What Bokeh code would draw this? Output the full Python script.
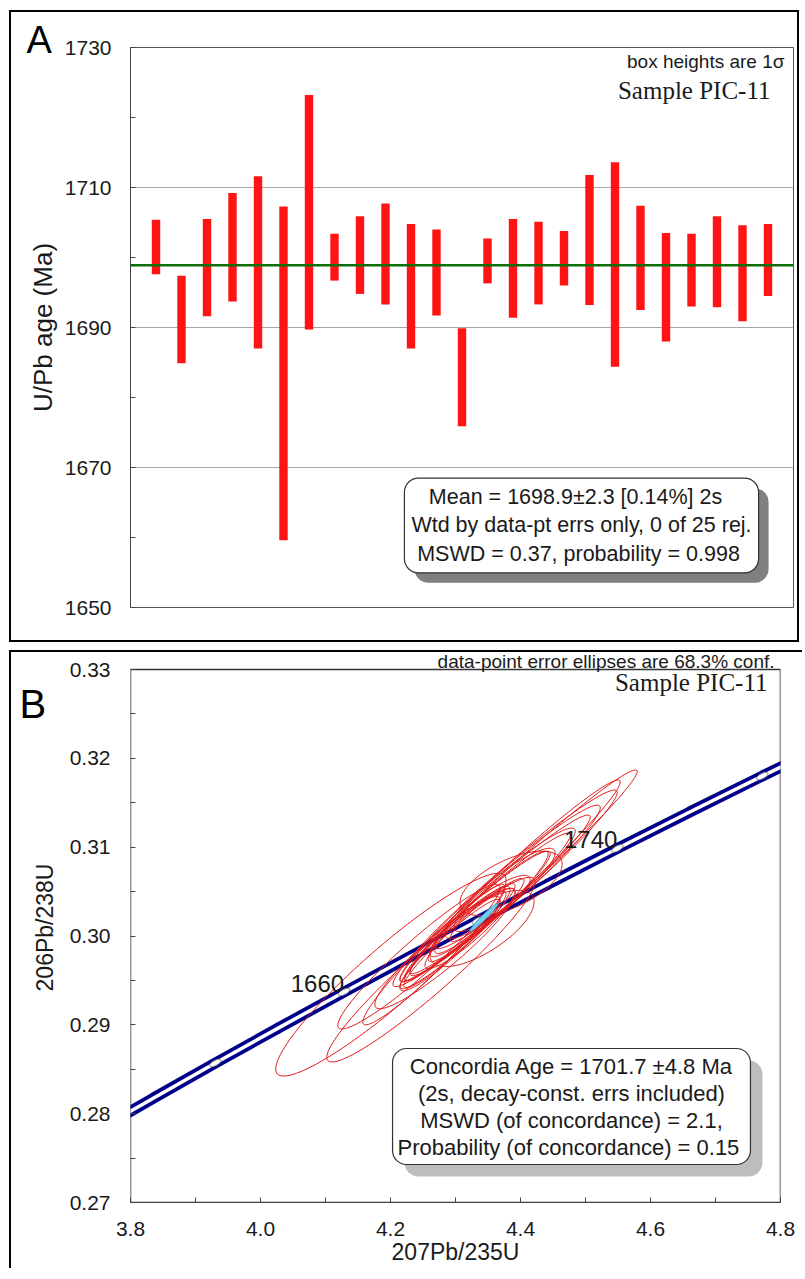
import numpy as np
from bokeh.plotting import figure
from bokeh.layouts import column
from bokeh.models import Label, Range1d, FixedTicker, PrintfTickFormatter, ColumnDataSource, Span
from bokeh.embed import file_html
from bokeh.resources import INLINE
from bokeh.core.properties import value

# ---------------- Panel A data (U/Pb ages, 1 sigma) ----------------
grain = list(range(1, 26))
age = [1701.5, 1691.15, 1698.55, 1701.45, 1699.3, 1683.45, 1706.45, 1700.05, 1700.35, 1700.5,
       1695.9, 1697.85, 1682.9, 1699.5, 1698.45, 1699.2, 1699.9, 1702.5, 1699.0, 1699.95,
       1695.75, 1698.2, 1699.4, 1697.75, 1699.65]
sigma = [3.9, 6.25, 6.95, 7.75, 12.3, 23.85, 16.75, 3.35, 5.55, 7.2,
         8.9, 6.15, 7.0, 3.2, 7.05, 5.9, 3.9, 9.3, 14.6, 7.45,
         7.75, 5.2, 6.5, 6.85, 5.15]
mean_age = 1698.9
ageA_major = [1650, 1670, 1690, 1710, 1730]
ageA_minor = [1660, 1680, 1700, 1720]

# ---------------- Panel B data (concordia diagram) ----------------
xlim_B = (3.8, 4.8)
ylim_B = (0.27, 0.33)
conc_age = [1580, 1600, 1620, 1640, 1660, 1680, 1700, 1720, 1740, 1760, 1780, 1800]
conc_x = [3.7401, 3.8344, 3.9306, 4.0286, 4.1287, 4.2307, 4.3347, 4.4409, 4.5491, 4.6595, 4.7720, 4.8869]
conc_y = [0.27775, 0.28172, 0.28571, 0.28969, 0.29370, 0.29772, 0.30175, 0.30580, 0.30986, 0.31393, 0.31801, 0.32210]
tick_ages = [1620, 1660, 1700, 1740, 1780]
label_ages = [1660, 1740]

# ellipse centres, half-extents in x and y, and correlation
ell_x = [4.2006, 4.2622, 4.2438, 4.2669, 4.2838, 4.2992, 4.3100, 4.3223, 4.3408, 4.3855,
         4.4009, 4.3871, 4.3763, 4.3686, 4.3609, 4.3532, 4.3378, 4.3501, 4.3300, 4.3686,
         4.3146, 4.3347, 4.3562, 4.2946, 4.3763]
ell_y = [0.29565, 0.29622, 0.29768, 0.29791, 0.29859, 0.29972, 0.30028, 0.30085, 0.30085, 0.30593,
         0.30684, 0.30627, 0.30537, 0.30480, 0.30424, 0.30367, 0.30254, 0.30333, 0.30198, 0.30480,
         0.30107, 0.30220, 0.30367, 0.29915, 0.30537]
ell_hx = [0.1772, 0.1602, 0.1248, 0.1094, 0.1079, 0.0847, 0.0955, 0.0693, 0.0801, 0.0786,
          0.1787, 0.1664, 0.1726, 0.1541, 0.1464, 0.1233, 0.1079, 0.0924, 0.0616, 0.0847,
          0.0539, 0.0431, 0.0586, 0.0740, 0.1079]
ell_hy = [0.01141, 0.01040, 0.00814, 0.00791, 0.00678, 0.00588, 0.00621, 0.00452, 0.00429, 0.00362,
          0.01186, 0.01130, 0.01107, 0.00994, 0.00938, 0.00791, 0.00701, 0.00621, 0.00395, 0.00508,
          0.00339, 0.00282, 0.00316, 0.00497, 0.00678]
ell_rho = [0.93, 0.95, 0.95, 0.96, 0.93, 0.94, 0.96, 0.92, 0.70, 0.60,
           0.985, 0.98, 0.975, 0.97, 0.975, 0.97, 0.96, 0.95, 0.93, 0.90,
           0.90, 0.90, 0.85, 0.95, 0.95]
cage_x, cage_y, cage_hx, cage_hy, cage_rho = 4.3437, 0.3021, 0.022, 0.0016, 0.97

FONT = "Liberation Sans"
SERIF = "Liberation Serif"
TXT = "#1a1a1a"

# panel B: plot box 531 px tall, view extended a little above it to hold the note line
B_BOX_PX = 531
B_NOTE_PX = 17
view_top_B = ylim_B[1] + (ylim_B[1] - ylim_B[0]) * B_NOTE_PX / B_BOX_PX


def outline(cx, cy, hx, hy, rho, n=120):
    t = np.linspace(0, 2 * np.pi, n)
    xs = cx + hx * np.cos(t)
    ys = cy + hy * (rho * np.cos(t) + np.sqrt(1 - rho ** 2) * np.sin(t))
    return list(xs), list(ys)


def box(p, x, y, text, shadow, d, size, lh, pad):
    common = dict(x=x, y=y, x_units="screen", y_units="screen", text=text,
                  text_align="center", text_baseline="middle", text_font=FONT,
                  text_font_size=size, border_radius=14, padding=pad, text_line_height=lh)
    p.add_layout(Label(x_offset=d, y_offset=-d, text_color=shadow, background_fill_color=shadow,
                       border_line_color=None, **common))
    p.add_layout(Label(text_color=TXT, background_fill_color="white", border_line_color="#333333",
                       border_line_width=1.2, **common))


def style_axis(ax, size="21px"):
    ax.major_label_text_font = FONT
    ax.major_label_text_font_size = size
    ax.major_label_text_color = TXT
    ax.axis_label_text_font = FONT
    ax.axis_label_text_font_style = "normal"
    ax.axis_label_text_color = TXT
    ax.axis_line_color = "#444444"
    ax.major_tick_line_color = "#444444"
    ax.minor_tick_line_color = "#444444"
    ax.major_tick_in = 5
    ax.major_tick_out = 0
    ax.minor_tick_in = 5
    ax.minor_tick_out = 0


def inner_label(p, x, y, text, font, size, align="left", baseline="alphabetic"):
    p.add_layout(Label(x=x, y=y, x_units="screen", y_units="screen", text=text, text_font=font,
                       text_font_size=size, text_align=align, text_baseline=baseline,
                       text_color=TXT))


def panel_title(p, text, offset, standoff, size):
    p.title.text = text
    p.title.align = "left"
    p.title.offset = offset
    p.title.standoff = standoff
    p.title.text_font = FONT
    p.title.text_font_size = size
    p.title.text_font_style = "normal"
    p.title.text_color = "black"


# ---------------- Panel A ----------------
pA = figure(frame_width=659, frame_height=556, min_border_left=113, min_border_right=14,
            min_border_top=35, min_border_bottom=37, x_range=Range1d(0, 26), y_range=Range1d(1650, 1730),
            output_backend="svg", toolbar_location=None,
            styles={"border": "2px solid black"})
panel_title(pA, "A", -104, -26, "38px")
pA.outline_line_color = "#555555"
pA.xaxis.visible = False
pA.xgrid.visible = False
pA.ygrid.ticker = FixedTicker(ticks=ageA_major)
pA.ygrid.grid_line_color = "#A6A6A6"
pA.yaxis.ticker = FixedTicker(ticks=ageA_major, minor_ticks=ageA_minor)
pA.yaxis.formatter = PrintfTickFormatter(format="%d")
pA.yaxis.axis_label = "U/Pb age (Ma)"
style_axis(pA.yaxis[0])
pA.yaxis.axis_label_text_font_size = "26px"
pA.yaxis.major_label_standoff = 19
pA.yaxis.axis_label_standoff = 4

srcA = ColumnDataSource(dict(x=grain, lo=[a - s for a, s in zip(age, sigma)], hi=[a + s for a, s in zip(age, sigma)]))
pA.vbar(x="x", bottom="lo", top="hi", width=0.33, source=srcA, fill_color="#FF1414", line_color=None)
pA.add_layout(Span(location=mean_age, dimension="width", line_color="#0A6E0A", line_width=2.5))

inner_label(pA, 654, 546, "box heights are 1σ", FONT, "19px", "right")
inner_label(pA, 640, 517, "Sample PIC-11", SERIF, "25px", "right")
box(pA, 451, 82, "Mean = 1698.9±2.3  [0.14%]  2s\nWtd by data-pt errs only, 0 of 25 rej.\nMSWD = 0.37, probability  = 0.998",
    "#808080", 10, "21.5px", 1.18, 7)

# ---------------- Panel B ----------------
pB = figure(frame_width=648, frame_height=B_BOX_PX + B_NOTE_PX, min_border_left=119, min_border_right=24,
            min_border_top=0, min_border_bottom=68, x_range=Range1d(*xlim_B), y_range=Range1d(ylim_B[0], view_top_B),
            output_backend="svg", toolbar_location=None,
            styles={"border-top": "2px solid black", "border-left": "2px solid black"})
panel_title(pB, "B", -111, -147, "40px")
pB.outline_line_color = None
pB.grid.visible = False
pB.xaxis.ticker = FixedTicker(ticks=[3.8, 4.0, 4.2, 4.4, 4.6, 4.8], minor_ticks=[3.9, 4.1, 4.3, 4.5, 4.7])
pB.yaxis.ticker = FixedTicker(ticks=[0.27, 0.28, 0.29, 0.30, 0.31, 0.32, 0.33],
                              minor_ticks=[0.275, 0.285, 0.295, 0.305, 0.315, 0.325])
pB.xaxis.formatter = PrintfTickFormatter(format="%.1f")
pB.yaxis.formatter = PrintfTickFormatter(format="%.2f")
pB.xaxis.axis_label = "207Pb/235U"
pB.yaxis.axis_label = "206Pb/238U"
style_axis(pB.xaxis[0])
style_axis(pB.yaxis[0])
pB.yaxis.axis_line_color = None
pB.xaxis.axis_label_text_font_size = "23px"
pB.yaxis.axis_label_text_font_size = "23px"
pB.xaxis.major_label_standoff = 19
pB.xaxis.axis_label_standoff = 0
pB.yaxis.major_label_standoff = 20
pB.yaxis.axis_label_standoff = 9

# plot box (the view extends above it for the note)
pB.quad(left=[xlim_B[0]], right=[xlim_B[1]], bottom=[ylim_B[0]], top=[ylim_B[1]],
        fill_color=None, line_color="#333333", line_width=1.5)

# concordia band
pB.line(conc_x, conc_y, line_color="#00008B", line_width=11)
pB.line(conc_x, conc_y, line_color="white", line_width=3.5)
ti = [conc_age.index(a) for a in tick_ages]
pB.ellipse([conc_x[i] for i in ti], [conc_y[i] for i in ti], width=13, height=5, width_units="screen",
           height_units="screen", angle=0.49, fill_color="white", line_color="#8a8a8a", line_width=1)

# ellipses
xs, ys = [], []
for cx, cy, hx, hy, r in zip(ell_x, ell_y, ell_hx, ell_hy, ell_rho):
    a, b = outline(cx, cy, hx, hy, r)
    xs.append(a)
    ys.append(b)
pB.multi_line(xs, ys, line_color="#E31A1A", line_width=1)
cxs, cys = outline(cage_x, cage_y, cage_hx, cage_hy, cage_rho)
pB.patch(cxs, cys, fill_color="#74CDEB", line_color="#3A8FC0", line_width=1)

li = [conc_age.index(a) for a in label_ages]
pB.text([conc_x[i] for i in li], [conc_y[i] for i in li], text=[str(a) for a in label_ages],
        text_align="right", text_baseline="bottom", text_font=value(FONT), text_font_size="24px",
        text_color=TXT)

inner_label(pB, 644, 531, "data-point error ellipses are 68.3% conf.", FONT, "19px", "right", "bottom")
inner_label(pB, 637, 520, "Sample PIC-11", SERIF, "25px", "right")
box(pB, 441, 96, "Concordia Age = 1701.7 ±4.8 Ma\n(2s, decay-const. errs included)\nMSWD (of concordance) = 2.1,\nProbability  (of concordance) = 0.15",
    "#BDBDBD", 12, "22px", 1.08, 5)

pA.margin = (10, 0, 0, 9)
pB.margin = (8, 0, 0, 9)
layout = column(pA, pB, spacing=0)
open("out.html", "w").write(file_html(layout, INLINE))
